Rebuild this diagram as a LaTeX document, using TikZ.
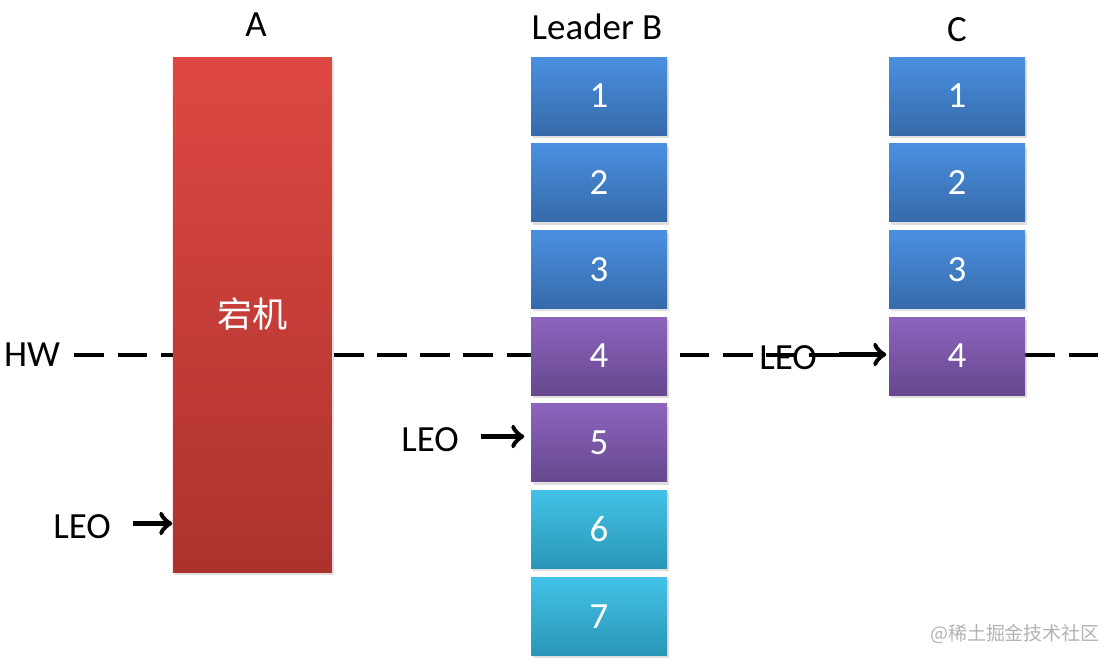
\documentclass[tikz,border=0pt]{standalone}
\usepackage{fontspec}
\setmainfont{Carlito}
\newfontfamily\cjk{Noto Sans CJK SC}
\usetikzlibrary{positioning, shadows}

\definecolor{redT}{RGB}{222,72,66}
\definecolor{redB}{RGB}{172,50,46}
\definecolor{blueT}{RGB}{74,144,224}
\definecolor{blueB}{RGB}{54,106,170}
\definecolor{purpleT}{RGB}{140,100,190}
\definecolor{purpleB}{RGB}{102,72,142}
\definecolor{cyanT}{RGB}{66,194,232}
\definecolor{cyanB}{RGB}{42,150,182}

\tikzset{
  blk/.style={minimum width=1.36cm, minimum height=0.78cm, inner sep=0pt,
    text=white, font=\fontsize{10.5}{12}\selectfont,
    drop shadow={opacity=0.25, shadow xshift=0.6pt, shadow yshift=-0.8pt}},
  blueblk/.style={top color=blueT, bottom color=blueB},
  purpleblk/.style={top color=purpleT, bottom color=purpleB},
  cyanblk/.style={top color=cyanT, bottom color=cyanB},
  lbl/.style={font=\fontsize{10.5}{12}\selectfont},
  leo/.style={->, line width=1.4pt, shorten <=0.1cm}
}

\begin{document}
\begin{tikzpicture}
  \useasboundingbox (0,0) rectangle (11.13,6.63);
  % HW line (behind the boxes)
  \node[lbl] (hw) at (0.32, 3.08) {HW};
  \coordinate (hwend) at (11.06, 3.08);
  \draw[line width=1.1pt, dash pattern=on 8.5pt off 3.8pt, shorten <=0.02cm] (hw.east) -- (hwend);
  % Broker A
  \node[blk, minimum width=1.59cm, minimum height=5.15cm, top color=redT, bottom color=redB,
    font=\cjk\fontsize{10}{12}\selectfont] (a) at (2.525, 3.485) {宕机};
  \node[lbl] (alabel) at (2.56, 6.38) {A};
  % Leader B
  \foreach \i/\c in {1/blueblk,2/blueblk,3/blueblk,4/purpleblk,5/purpleblk,6/cyanblk,7/cyanblk}
    \node[blk, \c] (b\i) at (5.99, {5.67-(\i-1)*0.867}) {\i};
  \node[lbl] (blabel) at (5.97, 6.36) {Leader B};
  % Follower C
  \foreach \i/\c in {1/blueblk,2/blueblk,3/blueblk,4/purpleblk}
    \node[blk, \c] (c\i) at (9.57, {5.67-(\i-1)*0.867}) {\i};
  \node[lbl] (clabel) at (9.57, 6.33) {C};
  % LEO markers
  \node[lbl] (leoa) at (0.82, 1.36) {LEO};
  \draw[leo] ([yshift=1pt]leoa.east) -- ([yshift=1pt]leoa.east -| a.west);
  \node[lbl] (leob) at (4.30, 2.23) {LEO};
  \draw[leo, shorten >=0.06cm] ([yshift=1pt]leob.east) -- ([yshift=1pt]leob.east -| b5.west);
  \node[lbl] (leoc) at (7.88, 3.05) {LEO};
  \draw[leo, shorten >=0.02cm] ([yshift=1pt]leoc.east) -- ([yshift=1pt]leoc.east -| c4.west);
  % watermark
  \node[text=gray!60, font=\cjk\fontsize{5.4}{7}\selectfont] (wm) at (10.15, 0.29) {@稀土掘金技术社区};
\end{tikzpicture}
\end{document}
